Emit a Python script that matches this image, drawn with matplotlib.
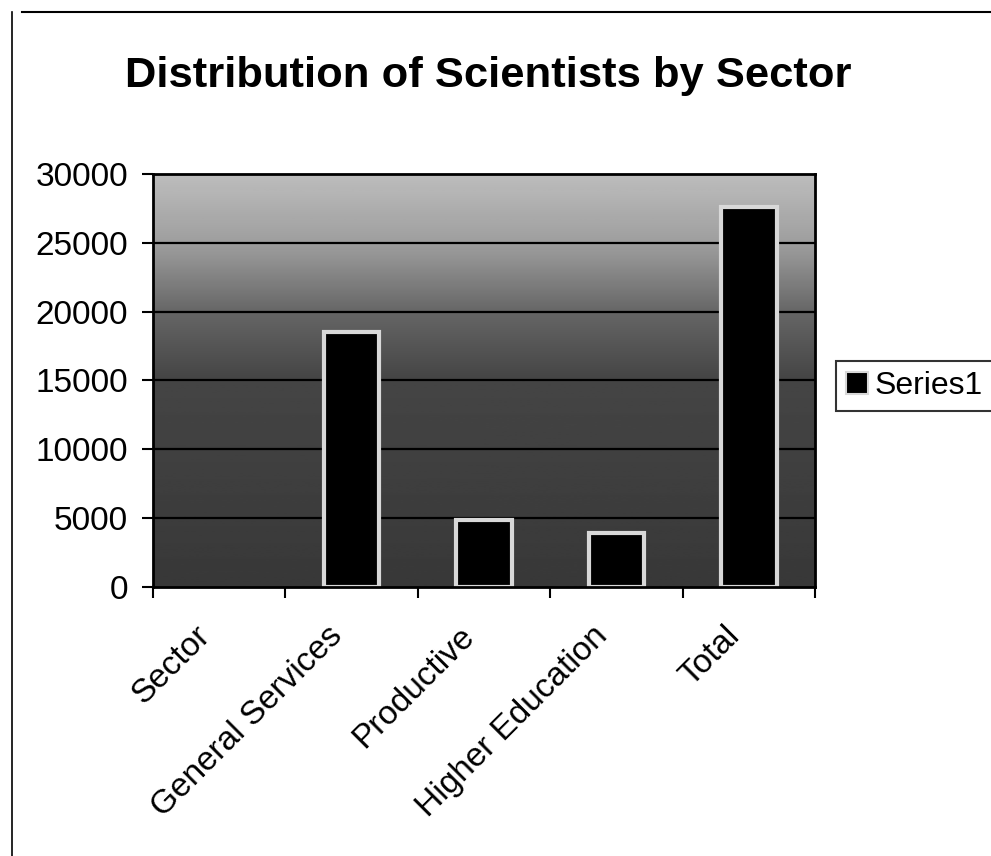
"""
Bar chart of scientists by sector, redrawn after a scanned Excel chart.
"""
import matplotlib
matplotlib.use('Agg')
import matplotlib.pyplot as plt
import matplotlib.transforms as mtransforms
from matplotlib.lines import Line2D
from matplotlib.patches import Patch
import numpy as np

plt.rcParams['font.family'] = ['Liberation Sans', 'DejaVu Sans']

# Values.
sectors = ['Sector', 'General Services', 'Productive', 'Higher Education', 'Total']
scientists = [0, 18500, 4900, 3900, 27600]
yticks = [0, 5000, 10000, 15000, 20000, 25000, 30000]

fig = plt.figure(figsize=(9.91, 8.56), dpi=100)
ax = fig.add_axes([0.1544, 0.3143, 0.668, 0.4824])

x = np.arange(len(sectors))
ax.set_xlim(-0.5, len(sectors) - 0.5)
ax.set_ylim(0, 30000)

# Plot-area shading: light at the top, dark from mid-height down.
shade = np.interp(np.linspace(0, 30000, 200),
                  [0, 15000, 20000, 25000, 30000],
                  [0.22, 0.27, 0.40, 0.62, 0.74])[:, None]
ax.imshow(shade, cmap='gray', vmin=0, vmax=1, origin='lower', aspect='auto',
          extent=(-0.5, len(sectors) - 0.5, 0, 30000), zorder=0)

for yv in yticks[1:-1]:
    ax.axhline(yv, color='black', linewidth=1.6, zorder=1)

edges = ['#d8d8d8' if v > 0 else 'none' for v in scientists]
ax.bar(x, scientists, width=0.42, color='black', edgecolor=edges,
       linewidth=3, zorder=2)

ax.set_yticks(yticks)
ax.set_yticklabels([str(v) for v in yticks], fontsize=24)
ax.set_xticks(np.arange(-0.5, len(sectors)), minor=False)
ax.set_xticklabels([])
ax.set_xticks(x, minor=True)
ax.set_xticklabels(sectors, minor=True, rotation=45, ha='right',
                   rotation_mode='anchor', fontsize=24)
ax.tick_params(axis='x', which='minor', length=0, pad=24)
ax.tick_params(axis='x', which='major', length=8, width=1.5, direction='out')
ax.tick_params(axis='y', length=8, width=1.5, direction='out', pad=10)
# the category names sit a little left of the bar centres
shift = mtransforms.ScaledTranslation(-0.25, 0, fig.dpi_scale_trans)
for lab in ax.get_xticklabels(minor=True):
    lab.set_transform(lab.get_transform() + shift)
for s in ax.spines.values():
    s.set_linewidth(2)

fig.text(0.493, 0.911, 'Distribution of Scientists by Sector', ha='center',
         va='center', fontsize=31.3, fontweight='bold')

handle = Patch(facecolor='black', edgecolor='#d8d8d8', linewidth=1.5)
leg = fig.legend([handle], ['Series1'], loc='center left',
                 bbox_to_anchor=(0.844, 0.549), fontsize=23, frameon=True,
                 fancybox=False, edgecolor='black', handlelength=0.7,
                 handleheight=0.7, handletextpad=0.2, borderpad=0.3,
                 borderaxespad=0)
leg.get_frame().set_linewidth(1.5)

# Border of the chart area, as it shows in the scan.
fig.add_artist(Line2D([0.022, 1.0], [0.986, 0.986], color='black',
                      linewidth=1.5))
fig.add_artist(Line2D([0.012, 0.012], [0.0, 0.986], color='black',
                      linewidth=1.2))

fig.savefig('out.png', dpi=100)
